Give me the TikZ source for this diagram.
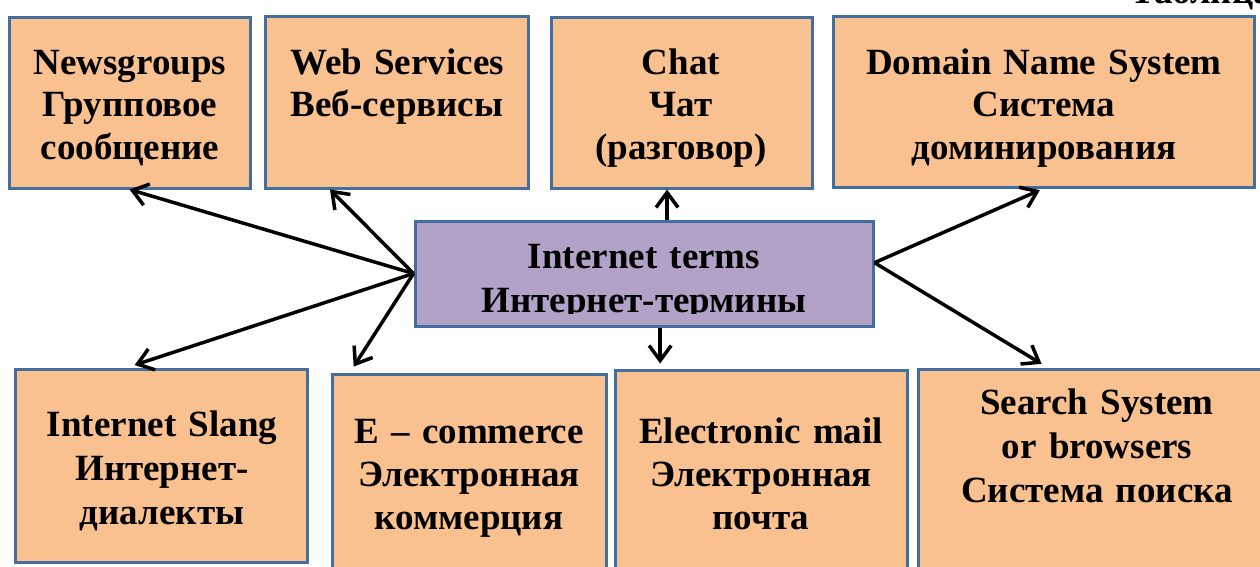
\documentclass[tikz,border=0pt]{standalone}
\usepackage{fontspec}
\setmainfont{Liberation Serif}
\usetikzlibrary{positioning,calc,arrows.meta}
\definecolor{peach}{RGB}{249,192,144}
\definecolor{lilas}{RGB}{178,162,199}
\definecolor{bord}{RGB}{68,110,158}
\tikzset{
	box/.style={draw=bord,line width=3pt,fill=peach,inner sep=0pt},
	txt/.style={align=center,inner sep=0pt,anchor=base,font=\bfseries\fontsize{37}{42.5}\selectfont},
	arr/.style={line width=3.5pt,-{Straight Barb[length=15pt,width=22pt]}}
}

\begin{document}
\begin{tikzpicture}[x=1pt,y=-1pt]
\useasboundingbox (0,0) rectangle (1260,566);
\clip (0,0) rectangle (1260,566); % coupe ce qui deborde

%titre coupe en haut
\node[anchor=base west,inner sep=0pt,font=\bfseries\fontsize{37}{43}\selectfont] (tabl) at (1130,3) {Таблица};

%cases du haut
\node[box,minimum width=241pt,minimum height=171pt] (news) at (129.5,102.5) {};
\node[box,minimum width=263pt,minimum height=172pt] (web) at (396.5,102) {};
\node[box,minimum width=261pt,minimum height=171pt] (chat) at (681.5,102.5) {};
\node[box,minimum width=421pt,minimum height=171pt] (dns) at (1043.5,101.5) {};

%case centrale
\node[box,fill=lilas,minimum width=458pt,minimum height=105pt] (terms) at (644,273.5) {};

%cases du bas
\node[box,minimum width=292pt,minimum height=193pt] (slang) at (161,465.5) {};
\node[box,minimum width=274pt,minimum height=201pt] (ecom) at (469,474.5) {};
\node[box,minimum width=292pt,minimum height=205pt] (mail) at (761,472.5) {};
\node[box,minimum width=358pt,minimum height=206pt] (search) at (1097,472) {};

%textes
\node[txt,text width=230pt] (newsT) at (130,74) {Newsgroups\\Групповое\\сообщение};
\node[txt,text width=250pt] (webT) at (397,74) {Web Services\\Веб-сервисы};
\node[txt,text width=250pt] (chatT) at (681,74) {Chat\\Чат\\(разговор)};
\node[txt,text width=400pt] (dnsT) at (1044,74) {Domain Name System\\Система\\доминирования};
\begin{scope}
\clip (415,221) rectangle (873,313);
\node[txt,text width=440pt,font=\bfseries\fontsize{37}{44}\selectfont] (termsT) at (644,268) {Internet terms\\Интернет-термины};
\end{scope}
\node[txt,text width=280pt,font=\bfseries\fontsize{37}{44}\selectfont] (slangT) at (162,436) {Internet Slang\\Интернет-\\диалекты};
\node[txt,text width=264pt,font=\bfseries\fontsize{37}{43}\selectfont] (ecomT) at (469,443) {E – commerce\\Электронная\\коммерция};
\node[txt,text width=280pt,font=\bfseries\fontsize{37}{43}\selectfont] (mailT) at (761,443) {Electronic mail\\Электронная\\почта};
\node[txt,text width=340pt,font=\bfseries\fontsize{37}{44}\selectfont] (searchT) at (1097,414) {Search System\\or browsers\\Система поиска};

%fleches
\coordinate (tr) at ($(terms.north east)!0.4!(terms.south east)$);
\coordinate (tc) at ($(terms.north west)!0.55!(terms.north east)$);
\coordinate (bc) at ($(terms.south west)!0.535!(terms.south east)$);
\draw[arr] (terms.west) -- (news.south);
\draw[arr] (terms.west) -- ($(web.south west)!0.25!(web.south east)$);
\draw[arr,shorten >=8pt] (terms.west) -- ($(slang.north west)!0.385!(slang.north east)$);
\draw[arr,shorten >=7pt] (terms.west) -- ($(ecom.north west)!0.07!(ecom.north east)$);
\draw[arr] (tc) -- (tc |- chat.south);
\draw[arr,shorten >=5pt] (bc) -- (bc |- mail.north);
\draw[arr,shorten >=4pt] (tr) -- (dns.south);
\draw[arr,shorten >=7pt] (tr) -- ($(search.north west)!0.363!(search.north east)$);

\end{tikzpicture}
\end{document}
